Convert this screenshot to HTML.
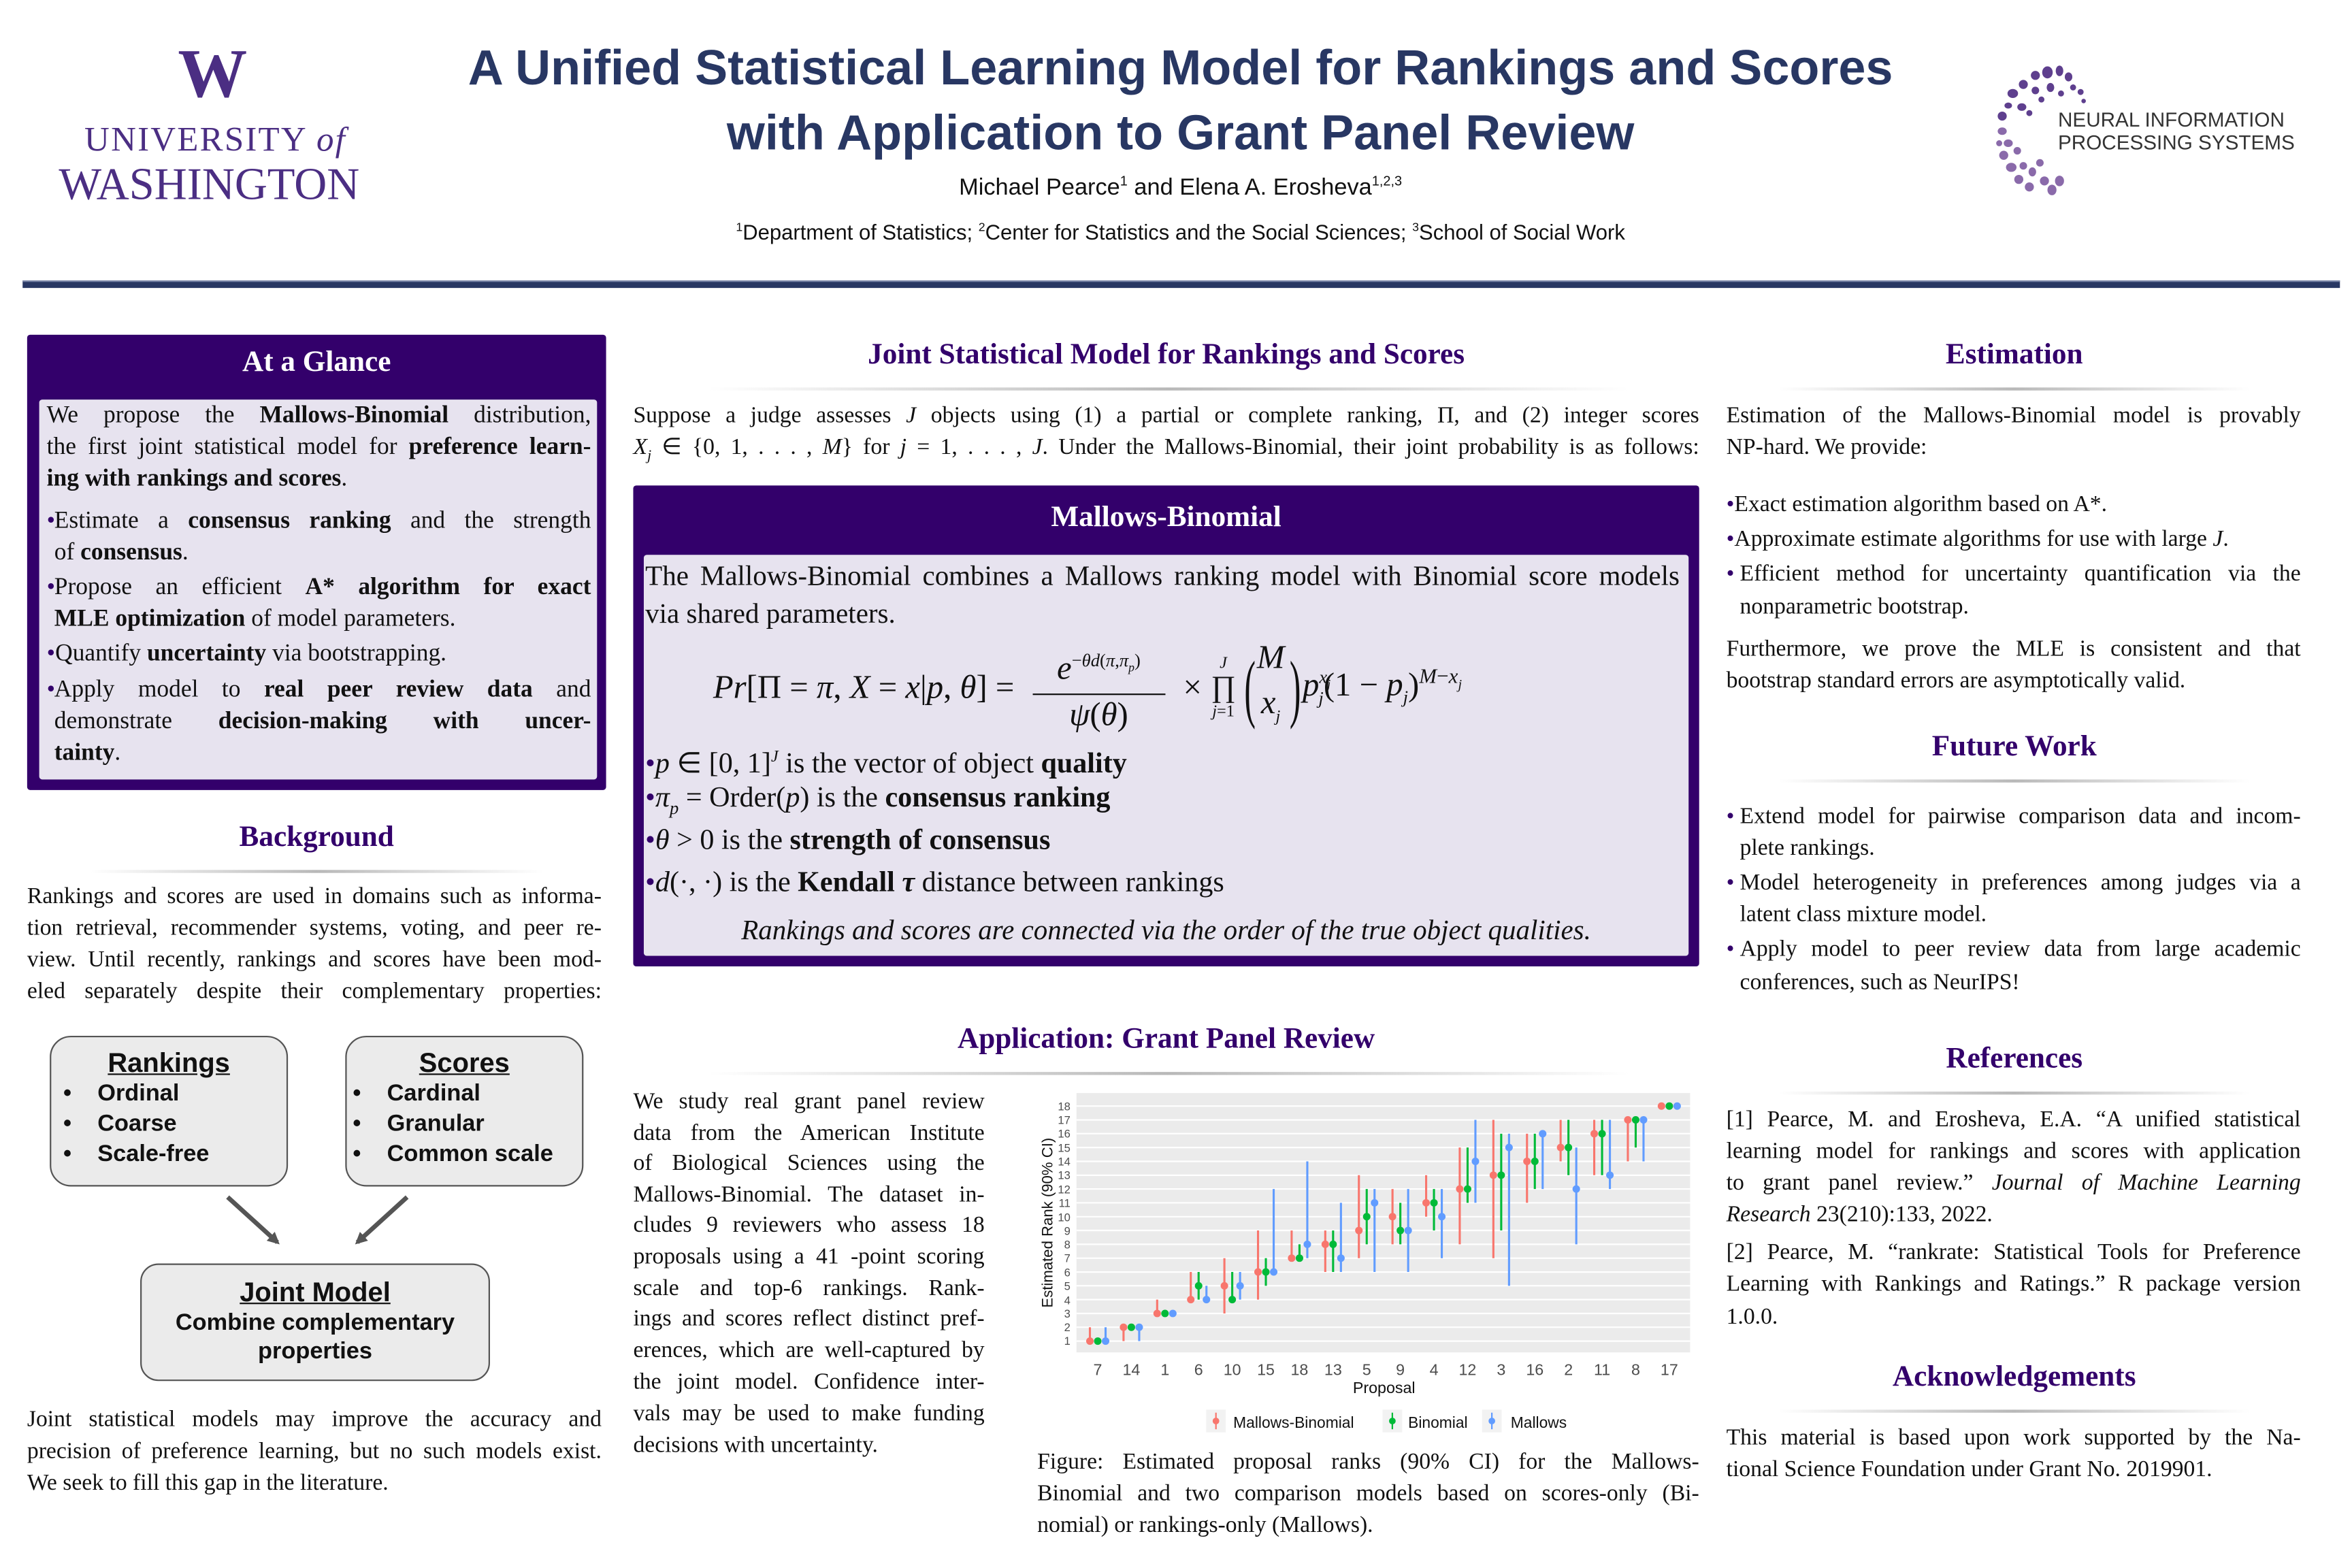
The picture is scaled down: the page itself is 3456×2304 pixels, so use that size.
<!DOCTYPE html>
<html><head><meta charset="utf-8">
<style>
html,body{margin:0;padding:0;background:#fff;}
body{width:3456px;height:2304px;overflow:hidden;position:relative;}
#p{position:absolute;left:0;top:0;width:1560px;height:1040px;transform:scale(2.21538);transform-origin:0 0;font-family:"Liberation Serif",serif;color:#111;}
.a{position:absolute;white-space:nowrap;}
.l{position:absolute;white-space:nowrap;font-size:15.2px;line-height:20px;}
.j{text-align:justify;text-align-last:justify;white-space:normal;}
.h{position:absolute;font-weight:bold;font-size:19.5px;color:#33006b;text-align:center;}
.ul{position:absolute;height:2px;background:linear-gradient(90deg,rgba(200,200,200,0),#b8b8b8 50%,rgba(200,200,200,0));}
.d{color:#33006b;}
b{font-weight:bold;}
</style></head><body><div id="p">

<!-- UW logo -->
<div class="a" style="left:110px;top:24px;width:60px;text-align:center;font:bold 46px 'Liberation Serif',serif;color:#4b2e83;line-height:50px;letter-spacing:-2px;">W</div>
<div class="a" style="left:56px;top:80px;font:23px 'Liberation Serif',serif;color:#4b2e83;letter-spacing:1px;">UNIVERSITY <i>of</i></div>
<div class="a" style="left:39px;top:106px;font:30px 'Liberation Serif',serif;color:#4b2e83;letter-spacing:0px;">WASHINGTON</div>

<!-- Title -->
<div class="a" style="left:250px;width:1066px;top:24px;text-align:center;font:bold 32.5px 'Liberation Sans',sans-serif;color:#283763;line-height:43px;">A Unified Statistical Learning Model for Rankings and Scores<br>with Application to Grant Panel Review</div>
<div class="a" style="left:250px;width:1066px;top:115px;text-align:center;font:15.5px 'Liberation Sans',sans-serif;">Michael Pearce<sup style="font-size:9px">1</sup> and Elena A. Erosheva<sup style="font-size:9px">1,2,3</sup></div>
<div class="a" style="left:250px;width:1066px;top:146px;text-align:center;font:14px 'Liberation Sans',sans-serif;"><sup style="font-size:8px">1</sup>Department of Statistics; <sup style="font-size:8px">2</sup>Center for Statistics and the Social Sciences; <sup style="font-size:8px">3</sup>School of Social Work</div>

<!-- NeurIPS logo -->
<svg class="a" style="left:1320px;top:38px" width="80" height="95" viewBox="0 0 80 95">
<g fill="#5e3f8e">
<ellipse cx="38" cy="10" rx="3.5" ry="4"/><ellipse cx="46" cy="9" rx="2.5" ry="3.5"/><ellipse cx="52" cy="13" rx="2.5" ry="3"/><ellipse cx="30" cy="12" rx="3" ry="3"/>
<ellipse cx="22" cy="18" rx="3" ry="3"/><ellipse cx="15" cy="24" rx="3.5" ry="3"/><ellipse cx="30" cy="22" rx="2.5" ry="2.5"/><ellipse cx="40" cy="20" rx="2.5" ry="3"/>
<ellipse cx="55" cy="20" rx="2" ry="2"/><ellipse cx="60" cy="23" rx="2" ry="2"/><ellipse cx="12" cy="32" rx="2.5" ry="2"/><ellipse cx="21" cy="33" rx="3" ry="2.5"/>
<ellipse cx="8" cy="39" rx="3" ry="3"/><ellipse cx="26" cy="37" rx="2" ry="2"/><ellipse cx="34" cy="28" rx="2" ry="2"/><ellipse cx="47" cy="24" rx="2" ry="2"/><ellipse cx="62" cy="29" rx="1.5" ry="1.5"/>
</g>
<g fill="#8a6aaa">
<ellipse cx="8" cy="49" rx="3" ry="2.5"/><ellipse cx="12" cy="57" rx="3" ry="2.5"/><ellipse cx="9" cy="65" rx="3" ry="3"/><ellipse cx="18" cy="62" rx="2.5" ry="2.5"/>
<ellipse cx="14" cy="73" rx="3.5" ry="3"/><ellipse cx="22" cy="72" rx="2.5" ry="2.5"/><ellipse cx="19" cy="81" rx="3" ry="3"/><ellipse cx="28" cy="76" rx="2.5" ry="3"/>
<ellipse cx="33" cy="70" rx="2.5" ry="2.5"/><ellipse cx="26" cy="86" rx="3" ry="3"/><ellipse cx="36" cy="82" rx="3" ry="3"/><ellipse cx="41" cy="88" rx="3" ry="3.5"/><ellipse cx="46" cy="82" rx="3" ry="3.5"/>
<ellipse cx="6" cy="57" rx="2" ry="2"/>
</g></svg>
<div class="a" style="left:1365px;top:72px;font:13.4px 'Liberation Sans',sans-serif;color:#333;line-height:15px;">NEURAL INFORMATION<br>PROCESSING SYSTEMS</div>

<div class="a" style="left:15px;top:186px;width:1537px;height:5px;background:#283763;border-top:1px solid #7a86a8;box-sizing:border-box;"></div>

<!-- At a glance -->
<div class="a" style="left:18px;top:222px;width:384px;height:302px;background:#33006b;border-radius:2px;"></div>
<div class="a" style="left:18px;top:230px;width:384px;text-align:center;color:#fff;font-weight:bold;font-size:19.5px;">At a Glance</div>
<div class="a" style="left:26px;top:265px;width:370px;height:252px;background:#e7e3ef;border-radius:2px;"></div>
<div style="font-size:16px">
<div class="l j" style="left:31px;width:361px;top:266px;font-size:16px">We propose the <b>Mallows-Binomial</b> distribution,</div>
<div class="l j" style="left:31px;width:361px;top:287px;font-size:16px">the first joint statistical model for <b>preference learn-</b></div>
<div class="l" style="left:31px;top:308px;font-size:16px"><b>ing with rankings and scores</b>.</div>
<div class="l" style="left:31px;top:336px;font-size:16px"><span class="d">•</span></div>
<div class="l j" style="left:36px;width:356px;top:336px;font-size:16px">Estimate a <b>consensus ranking</b> and the strength</div>
<div class="l" style="left:36px;top:357px;font-size:16px">of <b>consensus</b>.</div>
<div class="l" style="left:31px;top:380px;font-size:16px"><span class="d">•</span></div>
<div class="l j" style="left:36px;width:356px;top:380px;font-size:16px">Propose an efficient <b>A* algorithm for exact</b></div>
<div class="l" style="left:36px;top:401px;font-size:16px"><b>MLE optimization</b> of model parameters.</div>
<div class="l" style="left:31px;top:424px;font-size:16px"><span class="d">•</span>Quantify <b>uncertainty</b> via bootstrapping.</div>
<div class="l" style="left:31px;top:448px;font-size:16px"><span class="d">•</span></div>
<div class="l j" style="left:36px;width:356px;top:448px;font-size:16px">Apply model to <b>real peer review data</b> and</div>
<div class="l j" style="left:36px;width:356px;top:469px;font-size:16px">demonstrate <b>decision-making with uncer-</b></div>
<div class="l" style="left:36px;top:490px;font-size:16px"><b>tainty</b>.</div>
</div>

<!-- Background -->
<div class="h" style="left:18px;width:384px;top:545px;">Background</div>
<div class="ul" style="left:60px;width:300px;top:577px;"></div>
<div class="l j" style="left:18px;width:381px;top:585px;">Rankings and scores are used in domains such as informa-</div>
<div class="l j" style="left:18px;width:381px;top:606px;">tion retrieval, recommender systems, voting, and peer re-</div>
<div class="l j" style="left:18px;width:381px;top:627px;">view. Until recently, rankings and scores have been mod-</div>
<div class="l j" style="left:18px;width:381px;top:648px;">eled separately despite their complementary properties:</div>

<div class="a" style="left:33px;top:687px;width:158px;height:100px;background:#ebebeb;border:1px solid #555;border-radius:14px;box-sizing:border-box;font-family:'Liberation Sans',sans-serif;">
 <div style="text-align:center;font-weight:bold;font-size:18px;text-decoration:underline;margin-top:7px;">Rankings</div>
 <div style="font-weight:bold;font-size:15.5px;line-height:20px;margin-left:8px;">•&nbsp;&nbsp;&nbsp;&nbsp;Ordinal<br>•&nbsp;&nbsp;&nbsp;&nbsp;Coarse<br>•&nbsp;&nbsp;&nbsp;&nbsp;Scale-free</div></div>
<div class="a" style="left:229px;top:687px;width:158px;height:100px;background:#ebebeb;border:1px solid #555;border-radius:14px;box-sizing:border-box;font-family:'Liberation Sans',sans-serif;">
 <div style="text-align:center;font-weight:bold;font-size:18px;text-decoration:underline;margin-top:7px;">Scores</div>
 <div style="font-weight:bold;font-size:15.5px;line-height:20px;margin-left:4px;">•&nbsp;&nbsp;&nbsp;&nbsp;Cardinal<br>•&nbsp;&nbsp;&nbsp;&nbsp;Granular<br>•&nbsp;&nbsp;&nbsp;&nbsp;Common scale</div></div>
<div class="a" style="left:93px;top:838px;width:232px;height:78px;background:#ebebeb;border:1px solid #555;border-radius:12px;box-sizing:border-box;font-family:'Liberation Sans',sans-serif;text-align:center;">
 <div style="font-weight:bold;font-size:18px;text-decoration:underline;margin-top:8px;">Joint Model</div>
 <div style="font-weight:bold;font-size:15.5px;line-height:19px;">Combine complementary<br>properties</div></div>
<svg class="a" style="left:0;top:0" width="420" height="1040">
<defs><marker id="ar" markerWidth="8" markerHeight="8" refX="6" refY="4" orient="auto" markerUnits="userSpaceOnUse"><path d="M0,0L8,4L0,8z" fill="#555"/></marker></defs>
<line x1="151" y1="794" x2="184" y2="824" stroke="#555" stroke-width="3" marker-end="url(#ar)"/>
<line x1="270" y1="794" x2="237" y2="824" stroke="#555" stroke-width="3" marker-end="url(#ar)"/>
</svg>
<div class="l j" style="left:18px;width:381px;top:932px;">Joint statistical models may improve the accuracy and</div>
<div class="l j" style="left:18px;width:381px;top:953px;">precision of preference learning, but no such models exist.</div>
<div class="l" style="left:18px;top:974px;">We seek to fill this gap in the literature.</div>

<!-- Middle -->
<div class="h" style="left:420px;width:707px;top:225px;">Joint Statistical Model for Rankings and Scores</div>
<div class="ul" style="left:470px;width:610px;top:257px;"></div>
<div class="l j" style="left:420px;width:707px;top:266px;">Suppose a judge assesses <i>J</i> objects using (1) a partial or complete ranking, Π, and (2) integer scores</div>
<div class="l j" style="left:420px;width:707px;top:287px;"><i>X<sub style="font-size:10px">j</sub></i> ∈ {0, 1, . . . , <i>M</i>} for <i>j</i> = 1, . . . , <i>J</i>. Under the Mallows-Binomial, their joint probability is as follows:</div>

<div class="a" style="left:420px;top:322px;width:707px;height:319px;background:#33006b;border-radius:2px;"></div>
<div class="a" style="left:420px;top:333px;width:707px;text-align:center;color:#fff;font-weight:bold;font-size:19.5px;">Mallows-Binomial</div>
<div class="a" style="left:427px;top:368px;width:693px;height:266px;background:#e7e3ef;border-radius:2px;"></div>
<div class="l j" style="left:428px;width:686px;top:372px;font-size:18.5px;line-height:22px;">The Mallows-Binomial combines a Mallows ranking model with Binomial score models</div>
<div class="l" style="left:428px;top:397px;font-size:18.5px;line-height:22px;">via shared parameters.</div>
<!-- formula -->
<div class="a" style="left:473px;top:422px;height:68px;display:flex;align-items:center;font-size:22px;line-height:26px;">
 <span><i>Pr</i>[Π = <i>π</i>, <i>X</i> = <i>x</i>|<i>p</i>, <i>θ</i>] =</span>
 <span style="display:inline-flex;flex-direction:column;align-items:center;margin:0 12px 0 12px;width:88px;">
  <span style="border-bottom:1px solid #111;width:88px;text-align:center;padding-bottom:3px;"><i>e</i><sup style="font-size:12px">−<i>θd</i>(<i>π</i>,<i>π<sub style="font-size:8px">p</sub></i>)</sup></span>
  <span><i>ψ</i>(<i>θ</i>)</span>
 </span>
 <span style="margin-right:6px;">×</span>
 <span style="display:inline-flex;flex-direction:column;align-items:center;font-size:11px;line-height:12px;margin-right:2px;"><i>J</i><span style="font-size:20px;line-height:20px">∏</span><span><i>j</i>=1</span></span>
 <span style="font-size:50px;line-height:60px;display:inline-block;transform:scaleX(0.45);width:12px;font-weight:normal;">(</span>
 <span style="display:inline-flex;flex-direction:column;align-items:center;font-size:22px;line-height:30px;"><i>M</i><i>x<sub style="font-size:11px">j</sub></i></span>
 <span style="font-size:50px;line-height:60px;display:inline-block;transform:scaleX(0.45);width:12px;">)</span>
 <span><i>p</i><sup style="font-size:12px"><i>x<sub style="font-size:8px">j</sub></i></sup><sub style="font-size:12px;margin-left:-8px"><i>j</i></sub>(1 − <i>p<sub style="font-size:12px">j</sub></i>)<sup style="font-size:14px"><i>M</i>−<i>x<sub style="font-size:9px">j</sub></i></sup></span>
</div>

<div class="l" style="left:428px;top:490px;font-size:19px;line-height:24px;"><span class="d">•</span><i>p</i> ∈ [0, 1]<sup style="font-size:11px"><i>J</i></sup> is the vector of object <b>quality</b></div>
<div class="l" style="left:428px;top:518px;font-size:19px;line-height:24px;"><span class="d">•</span><i>π<sub style="font-size:12px">p</sub></i> = Order(<i>p</i>) is the <b>consensus ranking</b></div>
<div class="l" style="left:428px;top:546px;font-size:19px;line-height:24px;"><span class="d">•</span><i>θ</i> &gt; 0 is the <b>strength of consensus</b></div>
<div class="l" style="left:428px;top:574px;font-size:19px;line-height:24px;"><span class="d">•</span><i>d</i>(·, ·) is the <b>Kendall <i>τ</i></b> distance between rankings</div>
<div class="l" style="left:427px;width:693px;top:606px;font-size:18.5px;line-height:24px;text-align:center;"><i>Rankings and scores are connected via the order of the true object qualities.</i></div>

<div class="h" style="left:420px;width:707px;top:679px;">Application: Grant Panel Review</div>
<div class="ul" style="left:470px;width:610px;top:711px;"></div>
<div class="l j" style="left:420px;width:233px;top:721px;">We study real grant panel review</div>
<div class="l j" style="left:420px;width:233px;top:742px;">data from the American Institute</div>
<div class="l j" style="left:420px;width:233px;top:762px;">of Biological Sciences using the</div>
<div class="l j" style="left:420px;width:233px;top:783px;">Mallows-Binomial. The dataset in-</div>
<div class="l j" style="left:420px;width:233px;top:803px;">cludes 9 reviewers who assess 18</div>
<div class="l j" style="left:420px;width:233px;top:824px;">proposals using a 41 -point scoring</div>
<div class="l j" style="left:420px;width:233px;top:845px;">scale and top-6 rankings. Rank-</div>
<div class="l j" style="left:420px;width:233px;top:865px;">ings and scores reflect distinct pref-</div>
<div class="l j" style="left:420px;width:233px;top:886px;">erences, which are well-captured by</div>
<div class="l j" style="left:420px;width:233px;top:907px;">the joint model. Confidence inter-</div>
<div class="l j" style="left:420px;width:233px;top:928px;">vals may be used to make funding</div>
<div class="l" style="left:420px;top:949px;">decisions with uncertainty.</div>

<!-- Chart -->
<svg class="a" style="left:0;top:0" width="1140" height="960" font-family="'Liberation Sans',sans-serif">
<rect x="714" y="725" width="407" height="172" fill="#ebebeb"/>
<g stroke="#fff" stroke-width="1">
<line x1="714" x2="1121" y1="889.5" y2="889.5"/><line x1="714" x2="1121" y1="880.3" y2="880.3"/><line x1="714" x2="1121" y1="871.2" y2="871.2"/><line x1="714" x2="1121" y1="862" y2="862"/><line x1="714" x2="1121" y1="852.8" y2="852.8"/><line x1="714" x2="1121" y1="843.7" y2="843.7"/><line x1="714" x2="1121" y1="834.5" y2="834.5"/><line x1="714" x2="1121" y1="825.3" y2="825.3"/><line x1="714" x2="1121" y1="816.1" y2="816.1"/><line x1="714" x2="1121" y1="807" y2="807"/><line x1="714" x2="1121" y1="797.8" y2="797.8"/><line x1="714" x2="1121" y1="788.6" y2="788.6"/><line x1="714" x2="1121" y1="779.5" y2="779.5"/><line x1="714" x2="1121" y1="770.3" y2="770.3"/><line x1="714" x2="1121" y1="761.1" y2="761.1"/><line x1="714" x2="1121" y1="751.9" y2="751.9"/><line x1="714" x2="1121" y1="742.8" y2="742.8"/><line x1="714" x2="1121" y1="733.6" y2="733.6"/>
</g>
<g font-size="7.5" fill="#4d4d4d" text-anchor="end">
<text x="710" y="892">1</text><text x="710" y="883">2</text><text x="710" y="874">3</text><text x="710" y="865">4</text><text x="710" y="855.5">5</text><text x="710" y="846.5">6</text><text x="710" y="837">7</text><text x="710" y="828">8</text><text x="710" y="819">9</text><text x="710" y="810">10</text><text x="710" y="800.5">11</text><text x="710" y="791.5">12</text><text x="710" y="782">13</text><text x="710" y="773">14</text><text x="710" y="764">15</text><text x="710" y="754.5">16</text><text x="710" y="745.5">17</text><text x="710" y="736.5">18</text>
</g>
<g font-size="10.5" fill="#4d4d4d" text-anchor="middle">
<text x="728.1" y="912">7</text><text x="750.4" y="912">14</text><text x="772.7" y="912">1</text><text x="795" y="912">6</text><text x="817.3" y="912">10</text><text x="839.6" y="912">15</text><text x="861.9" y="912">18</text><text x="884.2" y="912">13</text><text x="906.5" y="912">5</text><text x="928.8" y="912">9</text><text x="951.1" y="912">4</text><text x="973.4" y="912">12</text><text x="995.7" y="912">3</text><text x="1018" y="912">16</text><text x="1040.3" y="912">2</text><text x="1062.6" y="912">11</text><text x="1084.9" y="912">8</text><text x="1107.2" y="912">17</text>
</g>
<text x="918" y="924" font-size="10.5" text-anchor="middle" fill="#111">Proposal</text>
<text transform="translate(698,811) rotate(-90)" font-size="10" text-anchor="middle" fill="#111">Estimated Rank (90% CI)</text>
<g transform="translate(728.1,889.5) scale(22.3,-9.17)">
<g stroke="#F8766D" fill="#F8766D">
<line x1="-0.233" x2="-0.233" y1="0" y2="1" vector-effect="non-scaling-stroke" stroke-width="1.4"/><ellipse cx="-0.233" cy="0" rx="0.112" ry="0.27" stroke="none"/>
<line x1="0.767" x2="0.767" y1="0" y2="1" vector-effect="non-scaling-stroke" stroke-width="1.4"/><ellipse cx="0.767" cy="1" rx="0.112" ry="0.27" stroke="none"/>
<line x1="1.767" x2="1.767" y1="2" y2="3" vector-effect="non-scaling-stroke" stroke-width="1.4"/><ellipse cx="1.767" cy="2" rx="0.112" ry="0.27" stroke="none"/>
<line x1="2.767" x2="2.767" y1="3" y2="5" vector-effect="non-scaling-stroke" stroke-width="1.4"/><ellipse cx="2.767" cy="3" rx="0.112" ry="0.27" stroke="none"/>
<line x1="3.767" x2="3.767" y1="2" y2="6" vector-effect="non-scaling-stroke" stroke-width="1.4"/><ellipse cx="3.767" cy="4" rx="0.112" ry="0.27" stroke="none"/>
<line x1="4.767" x2="4.767" y1="3" y2="8" vector-effect="non-scaling-stroke" stroke-width="1.4"/><ellipse cx="4.767" cy="5" rx="0.112" ry="0.27" stroke="none"/>
<line x1="5.767" x2="5.767" y1="6" y2="8" vector-effect="non-scaling-stroke" stroke-width="1.4"/><ellipse cx="5.767" cy="6" rx="0.112" ry="0.27" stroke="none"/>
<line x1="6.767" x2="6.767" y1="5" y2="8" vector-effect="non-scaling-stroke" stroke-width="1.4"/><ellipse cx="6.767" cy="7" rx="0.112" ry="0.27" stroke="none"/>
<line x1="7.767" x2="7.767" y1="6" y2="12" vector-effect="non-scaling-stroke" stroke-width="1.4"/><ellipse cx="7.767" cy="8" rx="0.112" ry="0.27" stroke="none"/>
<line x1="8.767" x2="8.767" y1="7" y2="11" vector-effect="non-scaling-stroke" stroke-width="1.4"/><ellipse cx="8.767" cy="9" rx="0.112" ry="0.27" stroke="none"/>
<line x1="9.767" x2="9.767" y1="9" y2="12" vector-effect="non-scaling-stroke" stroke-width="1.4"/><ellipse cx="9.767" cy="10" rx="0.112" ry="0.27" stroke="none"/>
<line x1="10.767" x2="10.767" y1="7" y2="14" vector-effect="non-scaling-stroke" stroke-width="1.4"/><ellipse cx="10.767" cy="11" rx="0.112" ry="0.27" stroke="none"/>
<line x1="11.767" x2="11.767" y1="6" y2="16" vector-effect="non-scaling-stroke" stroke-width="1.4"/><ellipse cx="11.767" cy="12" rx="0.112" ry="0.27" stroke="none"/>
<line x1="12.767" x2="12.767" y1="10" y2="15" vector-effect="non-scaling-stroke" stroke-width="1.4"/><ellipse cx="12.767" cy="13" rx="0.112" ry="0.27" stroke="none"/>
<line x1="13.767" x2="13.767" y1="13" y2="16" vector-effect="non-scaling-stroke" stroke-width="1.4"/><ellipse cx="13.767" cy="14" rx="0.112" ry="0.27" stroke="none"/>
<line x1="14.767" x2="14.767" y1="12" y2="16" vector-effect="non-scaling-stroke" stroke-width="1.4"/><ellipse cx="14.767" cy="15" rx="0.112" ry="0.27" stroke="none"/>
<line x1="15.767" x2="15.767" y1="13" y2="16" vector-effect="non-scaling-stroke" stroke-width="1.4"/><ellipse cx="15.767" cy="16" rx="0.112" ry="0.27" stroke="none"/>
<ellipse cx="16.767" cy="17" rx="0.112" ry="0.27" stroke="none"/>
</g>
<g stroke="#00BA38" fill="#00BA38">
<ellipse cx="0" cy="0" rx="0.112" ry="0.27" stroke="none"/>
<ellipse cx="1" cy="1" rx="0.112" ry="0.27" stroke="none"/>
<ellipse cx="2" cy="2" rx="0.112" ry="0.27" stroke="none"/>
<line x1="3" x2="3" y1="3" y2="5" vector-effect="non-scaling-stroke" stroke-width="1.4"/><ellipse cx="3" cy="4" rx="0.112" ry="0.27" stroke="none"/>
<line x1="4" x2="4" y1="3" y2="5" vector-effect="non-scaling-stroke" stroke-width="1.4"/><ellipse cx="4" cy="3" rx="0.112" ry="0.27" stroke="none"/>
<line x1="5" x2="5" y1="4" y2="6" vector-effect="non-scaling-stroke" stroke-width="1.4"/><ellipse cx="5" cy="5" rx="0.112" ry="0.27" stroke="none"/>
<line x1="6" x2="6" y1="6" y2="7" vector-effect="non-scaling-stroke" stroke-width="1.4"/><ellipse cx="6" cy="6" rx="0.112" ry="0.27" stroke="none"/>
<line x1="7" x2="7" y1="5" y2="8" vector-effect="non-scaling-stroke" stroke-width="1.4"/><ellipse cx="7" cy="7" rx="0.112" ry="0.27" stroke="none"/>
<line x1="8" x2="8" y1="7" y2="11" vector-effect="non-scaling-stroke" stroke-width="1.4"/><ellipse cx="8" cy="9" rx="0.112" ry="0.27" stroke="none"/>
<line x1="9" x2="9" y1="7" y2="10" vector-effect="non-scaling-stroke" stroke-width="1.4"/><ellipse cx="9" cy="8" rx="0.112" ry="0.27" stroke="none"/>
<line x1="10" x2="10" y1="8" y2="11" vector-effect="non-scaling-stroke" stroke-width="1.4"/><ellipse cx="10" cy="10" rx="0.112" ry="0.27" stroke="none"/>
<line x1="11" x2="11" y1="10" y2="14" vector-effect="non-scaling-stroke" stroke-width="1.4"/><ellipse cx="11" cy="11" rx="0.112" ry="0.27" stroke="none"/>
<line x1="12" x2="12" y1="8" y2="15" vector-effect="non-scaling-stroke" stroke-width="1.4"/><ellipse cx="12" cy="12" rx="0.112" ry="0.27" stroke="none"/>
<line x1="13" x2="13" y1="11" y2="15" vector-effect="non-scaling-stroke" stroke-width="1.4"/><ellipse cx="13" cy="13" rx="0.112" ry="0.27" stroke="none"/>
<line x1="14" x2="14" y1="12" y2="16" vector-effect="non-scaling-stroke" stroke-width="1.4"/><ellipse cx="14" cy="14" rx="0.112" ry="0.27" stroke="none"/>
<line x1="15" x2="15" y1="12" y2="16" vector-effect="non-scaling-stroke" stroke-width="1.4"/><ellipse cx="15" cy="15" rx="0.112" ry="0.27" stroke="none"/>
<line x1="16" x2="16" y1="14" y2="16" vector-effect="non-scaling-stroke" stroke-width="1.4"/><ellipse cx="16" cy="16" rx="0.112" ry="0.27" stroke="none"/>
<ellipse cx="17" cy="17" rx="0.112" ry="0.27" stroke="none"/>
</g>
<g stroke="#619CFF" fill="#619CFF">
<line x1="0.233" x2="0.233" y1="0" y2="1" vector-effect="non-scaling-stroke" stroke-width="1.4"/><ellipse cx="0.233" cy="0" rx="0.112" ry="0.27" stroke="none"/>
<line x1="1.233" x2="1.233" y1="0" y2="1" vector-effect="non-scaling-stroke" stroke-width="1.4"/><ellipse cx="1.233" cy="1" rx="0.112" ry="0.27" stroke="none"/>
<ellipse cx="2.233" cy="2" rx="0.112" ry="0.27" stroke="none"/>
<line x1="3.233" x2="3.233" y1="3" y2="4" vector-effect="non-scaling-stroke" stroke-width="1.4"/><ellipse cx="3.233" cy="3" rx="0.112" ry="0.27" stroke="none"/>
<line x1="4.233" x2="4.233" y1="3" y2="5" vector-effect="non-scaling-stroke" stroke-width="1.4"/><ellipse cx="4.233" cy="4" rx="0.112" ry="0.27" stroke="none"/>
<line x1="5.233" x2="5.233" y1="5" y2="11" vector-effect="non-scaling-stroke" stroke-width="1.4"/><ellipse cx="5.233" cy="5" rx="0.112" ry="0.27" stroke="none"/>
<line x1="6.233" x2="6.233" y1="6" y2="13" vector-effect="non-scaling-stroke" stroke-width="1.4"/><ellipse cx="6.233" cy="7" rx="0.112" ry="0.27" stroke="none"/>
<line x1="7.233" x2="7.233" y1="5" y2="10" vector-effect="non-scaling-stroke" stroke-width="1.4"/><ellipse cx="7.233" cy="6" rx="0.112" ry="0.27" stroke="none"/>
<line x1="8.233" x2="8.233" y1="5" y2="11" vector-effect="non-scaling-stroke" stroke-width="1.4"/><ellipse cx="8.233" cy="10" rx="0.112" ry="0.27" stroke="none"/>
<line x1="9.233" x2="9.233" y1="5" y2="11" vector-effect="non-scaling-stroke" stroke-width="1.4"/><ellipse cx="9.233" cy="8" rx="0.112" ry="0.27" stroke="none"/>
<line x1="10.233" x2="10.233" y1="6" y2="11" vector-effect="non-scaling-stroke" stroke-width="1.4"/><ellipse cx="10.233" cy="9" rx="0.112" ry="0.27" stroke="none"/>
<line x1="11.233" x2="11.233" y1="10" y2="16" vector-effect="non-scaling-stroke" stroke-width="1.4"/><ellipse cx="11.233" cy="13" rx="0.112" ry="0.27" stroke="none"/>
<line x1="12.233" x2="12.233" y1="4" y2="15" vector-effect="non-scaling-stroke" stroke-width="1.4"/><ellipse cx="12.233" cy="14" rx="0.112" ry="0.27" stroke="none"/>
<line x1="13.233" x2="13.233" y1="11" y2="15" vector-effect="non-scaling-stroke" stroke-width="1.4"/><ellipse cx="13.233" cy="15" rx="0.112" ry="0.27" stroke="none"/>
<line x1="14.233" x2="14.233" y1="7" y2="14" vector-effect="non-scaling-stroke" stroke-width="1.4"/><ellipse cx="14.233" cy="11" rx="0.112" ry="0.27" stroke="none"/>
<line x1="15.233" x2="15.233" y1="11" y2="16" vector-effect="non-scaling-stroke" stroke-width="1.4"/><ellipse cx="15.233" cy="12" rx="0.112" ry="0.27" stroke="none"/>
<line x1="16.233" x2="16.233" y1="13" y2="16" vector-effect="non-scaling-stroke" stroke-width="1.4"/><ellipse cx="16.233" cy="16" rx="0.112" ry="0.27" stroke="none"/>
<ellipse cx="17.233" cy="17" rx="0.112" ry="0.27" stroke="none"/>
</g>
</g>
<!-- legend -->
<g font-size="10.3" fill="#111">
<rect x="800" y="935" width="13" height="15" fill="#f2f2f2"/><line x1="806.5" x2="806.5" y1="937" y2="948" stroke="#F8766D"/><circle cx="806.5" cy="942.5" r="2.2" fill="#F8766D"/><text x="818" y="947">Mallows-Binomial</text>
<rect x="917" y="935" width="13" height="15" fill="#f2f2f2"/><line x1="923.5" x2="923.5" y1="937" y2="948" stroke="#00BA38"/><circle cx="923.5" cy="942.5" r="2.2" fill="#00BA38"/><text x="934" y="947">Binomial</text>
<rect x="983" y="935" width="13" height="15" fill="#f2f2f2"/><line x1="989.5" x2="989.5" y1="937" y2="948" stroke="#619CFF"/><circle cx="989.5" cy="942.5" r="2.2" fill="#619CFF"/><text x="1002" y="947">Mallows</text>
</g>
</svg>
<div class="l j" style="left:688px;width:439px;top:960px;">Figure: Estimated proposal ranks (90% CI) for the Mallows-</div>
<div class="l j" style="left:688px;width:439px;top:981px;">Binomial and two comparison models based on scores-only (Bi-</div>
<div class="l" style="left:688px;top:1002px;">nomial) or rankings-only (Mallows).</div>

<!-- Right column -->
<div class="h" style="left:1145px;width:382px;top:225px;">Estimation</div>
<div class="ul" style="left:1180px;width:312px;top:257px;"></div>
<div class="l j" style="left:1145px;width:381px;top:266px;">Estimation of the Mallows-Binomial model is provably</div>
<div class="l" style="left:1145px;top:287px;">NP-hard. We provide:</div>
<div class="l" style="left:1145px;top:325px;"><span class="d">•</span>Exact estimation algorithm based on A*.</div>
<div class="l" style="left:1145px;top:348px;"><span class="d">•</span>Approximate estimate algorithms for use with large <i>J</i>.</div>
<div class="l" style="left:1145px;top:371px;"><span class="d">•</span></div>
<div class="l j" style="left:1154px;width:372px;top:371px;">Efficient method for uncertainty quantification via the</div>
<div class="l" style="left:1154px;top:393px;">nonparametric bootstrap.</div>
<div class="l j" style="left:1145px;width:381px;top:421px;">Furthermore, we prove the MLE is consistent and that</div>
<div class="l" style="left:1145px;top:442px;">bootstrap standard errors are asymptotically valid.</div>

<div class="h" style="left:1145px;width:382px;top:485px;">Future Work</div>
<div class="ul" style="left:1180px;width:312px;top:517px;"></div>
<div class="l" style="left:1145px;top:532px;"><span class="d">•</span></div>
<div class="l j" style="left:1154px;width:372px;top:532px;">Extend model for pairwise comparison data and incom-</div>
<div class="l" style="left:1154px;top:553px;">plete rankings.</div>
<div class="l" style="left:1145px;top:576px;"><span class="d">•</span></div>
<div class="l j" style="left:1154px;width:372px;top:576px;">Model heterogeneity in preferences among judges via a</div>
<div class="l" style="left:1154px;top:597px;">latent class mixture model.</div>
<div class="l" style="left:1145px;top:620px;"><span class="d">•</span></div>
<div class="l j" style="left:1154px;width:372px;top:620px;">Apply model to peer review data from large academic</div>
<div class="l" style="left:1154px;top:642px;">conferences, such as NeurIPS!</div>

<div class="h" style="left:1145px;width:382px;top:692px;">References</div>
<div class="ul" style="left:1180px;width:312px;top:724px;"></div>
<div class="l j" style="left:1145px;width:381px;top:733px;">[1] Pearce, M. and Erosheva, E.A. “A unified statistical</div>
<div class="l j" style="left:1145px;width:381px;top:754px;">learning model for rankings and scores with application</div>
<div class="l j" style="left:1145px;width:381px;top:775px;">to grant panel review.” <i>Journal of Machine Learning</i></div>
<div class="l" style="left:1145px;top:796px;"><i>Research</i> 23(210):133, 2022.</div>
<div class="l j" style="left:1145px;width:381px;top:821px;">[2] Pearce, M. “rankrate: Statistical Tools for Preference</div>
<div class="l j" style="left:1145px;width:381px;top:842px;">Learning with Rankings and Ratings.” R package version</div>
<div class="l" style="left:1145px;top:864px;">1.0.0.</div>

<div class="h" style="left:1145px;width:382px;top:903px;">Acknowledgements</div>
<div class="ul" style="left:1180px;width:312px;top:935px;"></div>
<div class="l j" style="left:1145px;width:381px;top:944px;">This material is based upon work supported by the Na-</div>
<div class="l" style="left:1145px;top:965px;">tional Science Foundation under Grant No. 2019901.</div>

</div></body></html>
